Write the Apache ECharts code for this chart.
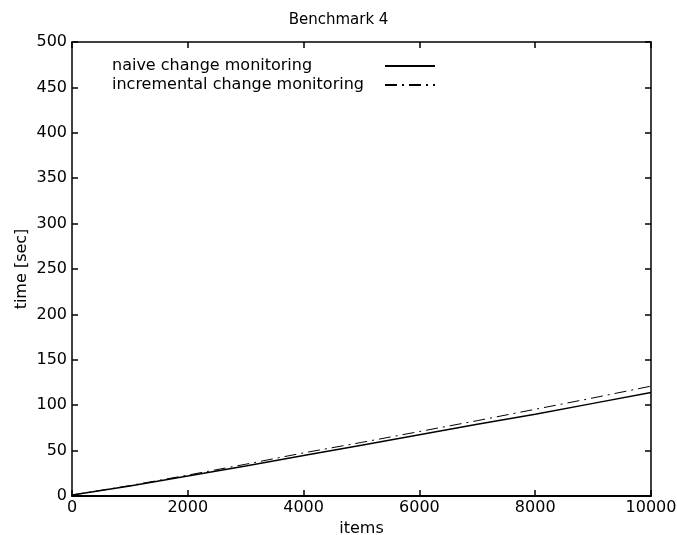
<!DOCTYPE html>
<html>
<head>
<meta charset="utf-8">
<script src="https://cdn.jsdelivr.net/npm/echarts@6/dist/echarts.min.js"></script>
<style>
  html, body { margin: 0; padding: 0; background: #fff; }
  #main { width: 677px; height: 535px; }
</style>
</head>
<body>
<div id="main"></div>
<script>
// values
var items = [0, 1000, 2000, 3000, 4000, 5000, 6000, 7000, 8000, 9000, 10000];
var naiveTime = [1, 11, 22, 33, 44.5, 56, 67.5, 79, 90, 102, 114];
var incrementalTime = [1, 11.5, 23, 35, 47.5, 59, 71, 83, 95.5, 108, 121];
var seriesNames = ['naive change monitoring', 'incremental change monitoring'];

var font = 'DejaVu Sans';

function pairs(xs, ys) {
    return xs.map(function (x, i) { return [x, ys[i]]; });
}

function axisLine(w) {
    return { show: true, onZero: false, lineStyle: { color: '#000', width: w } };
}
function axisTick() {
    return { show: true, inside: true, length: 6, lineStyle: { color: '#000', width: 1.5 } };
}

var chart = echarts.init(document.getElementById('main'));

chart.setOption({
    backgroundColor: '#fff',
    animation: false,
    title: {
        text: 'Benchmark 4',
        left: 'center',
        top: 8,
        textStyle: { fontFamily: font, fontSize: 15, fontWeight: 'normal', color: '#000' }
    },
    legend: {
        orient: 'vertical',
        left: 107,
        top: 53,
        align: 'right',
        itemWidth: 50,
        itemHeight: 10,
        itemGap: 3,
        data: seriesNames,
        itemStyle: { color: 'transparent', borderWidth: 0 },
        formatter: function (name) { return '{t|' + name + '}'; },
        textStyle: {
            fontFamily: font, fontSize: 16, color: '#000',
            rich: { t: { fontFamily: font, fontSize: 16, color: '#000', width: 268, align: 'left' } }
        }
    },
    grid: { left: 72, right: 26, top: 42, bottom: 39, outerBoundsMode: 'none' },
    xAxis: [{
        type: 'value',
        min: 0,
        max: 10000,
        interval: 2000,
        name: 'items',
        nameLocation: 'middle',
        nameGap: 23,
        nameTextStyle: { fontFamily: font, fontSize: 16, color: '#000' },
        axisLine: axisLine(2),
        axisTick: axisTick(),
        axisLabel: { fontFamily: font, fontSize: 16, color: '#000', margin: 4, formatter: function (v) { return String(v); } },
        splitLine: { show: false }
    }, {
        type: 'value',
        position: 'top',
        min: 0,
        max: 10000,
        interval: 2000,
        axisLine: axisLine(1.5),
        axisTick: axisTick(),
        axisLabel: { show: false },
        splitLine: { show: false }
    }],
    yAxis: [{
        type: 'value',
        min: 0,
        max: 500,
        interval: 50,
        name: 'time [sec]',
        nameLocation: 'middle',
        nameGap: 42,
        nameMoveOverlap: false,
        nameTextStyle: { fontFamily: font, fontSize: 16, color: '#000' },
        axisLine: axisLine(1.5),
        axisTick: axisTick(),
        axisLabel: { fontFamily: font, fontSize: 16, color: '#000', margin: 5 },
        splitLine: { show: false }
    }, {
        type: 'value',
        position: 'right',
        min: 0,
        max: 500,
        interval: 50,
        axisLine: axisLine(1.5),
        axisTick: axisTick(),
        axisLabel: { show: false },
        splitLine: { show: false }
    }],
    series: [{
        name: seriesNames[0],
        type: 'line',
        data: pairs(items, naiveTime),
        symbol: 'none',
        lineStyle: { color: '#000', width: 1.5 },
        itemStyle: { color: '#000' }
    }, {
        name: seriesNames[1],
        type: 'line',
        data: pairs(items, incrementalTime),
        symbol: 'none',
        lineStyle: { color: '#000', width: 1, type: [12, 5, 2, 5] },
        itemStyle: { color: '#000' }
    }]
});
</script>
</body>
</html>
